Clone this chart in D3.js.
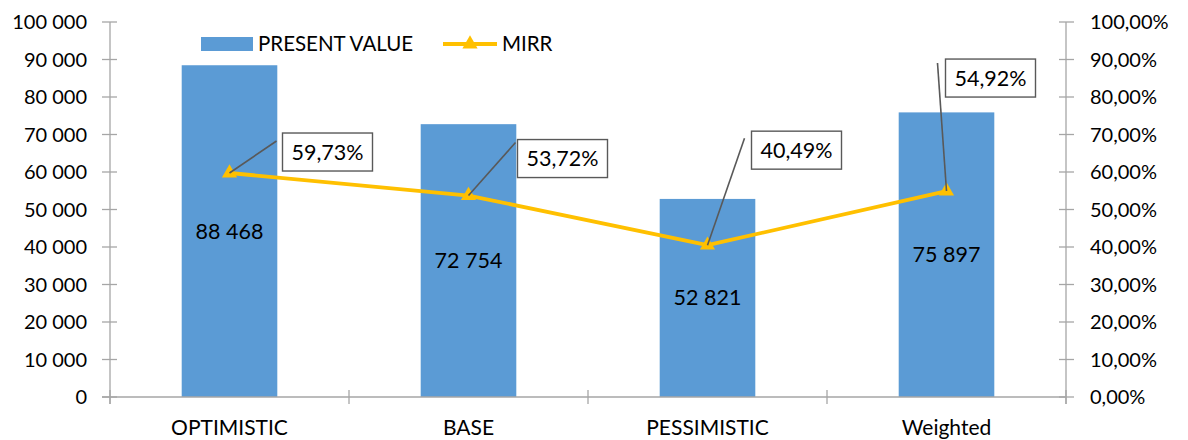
<!DOCTYPE html>
<html>
<head>
<meta charset="utf-8">
<script src="https://cdn.jsdelivr.net/npm/d3@7/dist/d3.min.js"></script>
<style>
  html, body { margin: 0; padding: 0; background: #fff; }
  svg text { font-family: Lato, "Open Sans", sans-serif; fill: #000; }
</style>
</head>
<body>
<svg id="chart" width="1188" height="440"></svg>
<script>
// Scenario values
const categories = ["OPTIMISTIC", "BASE", "PESSIMISTIC", "Weighted"];
const presentValue = [88468, 72754, 52821, 75897];
const mirr = [0.5973, 0.5372, 0.4049, 0.5492];
const leftTicks = [0, 10000, 20000, 30000, 40000, 50000, 60000, 70000, 80000, 90000, 100000];
const rightTicks = [0, 0.1, 0.2, 0.3, 0.4, 0.5, 0.6, 0.7, 0.8, 0.9, 1.0];

// Callout placement for the MIRR labels (box offset from the point, leader start offset)
const callouts = [
  { bx: 53, by: -40, lx: 47, ly: -32 },
  { bx: 49, by: -56, lx: 47, ly: -53 },
  { bx: 44, by: -114, lx: 37, ly: -107 },
  { bx: -1, by: -132, lx: -9, ly: -128 }
];

const svg = d3.select("#chart");
const m = { left: 110, right: 1066, top: 22, bottom: 397 };

const x = d3.scaleBand().domain(categories).range([m.left, m.right]).paddingInner(0.6).paddingOuter(0.3);
const xb = d3.scaleBand().domain(categories).range([m.left, m.right]);
const yL = d3.scaleLinear().domain([0, 100000]).range([m.bottom, m.top]);
const yR = d3.scaleLinear().domain([0, 1]).range([m.bottom, m.top]);

const grey = "#a6a6a6";
const fmtNum = v => d3.format(",")(v).replace(/,/g, " ");
const fmtPct = v => d3.format(".2f")(v * 100).replace(".", ",") + "%";

// Bars
svg.append("g").selectAll("rect").data(presentValue).join("rect")
  .attr("x", (d, i) => x(categories[i]))
  .attr("width", x.bandwidth())
  .attr("y", d => yL(d))
  .attr("height", d => yL(0) - yL(d))
  .attr("fill", "#5b9bd5");

// Bar value labels
svg.append("g").selectAll("text").data(presentValue).join("text")
  .attr("x", (d, i) => x(categories[i]) + x.bandwidth() / 2)
  .attr("y", d => (yL(d) + yL(0)) / 2)
  .attr("dy", "0.35em")
  .attr("text-anchor", "middle")
  .attr("font-size", 21.5)
  .text(fmtNum);

// Left axis
const gL = svg.append("g");
gL.append("line").attr("x1", m.left).attr("x2", m.left).attr("y1", m.top).attr("y2", m.bottom + 7).attr("stroke", grey).attr("stroke-width", 1.3);
gL.selectAll("line.t").data(leftTicks).join("line").attr("class", "t")
  .attr("x1", m.left - 8).attr("x2", m.left + 7)
  .attr("y1", d => yL(d)).attr("y2", d => yL(d)).attr("stroke", grey).attr("stroke-width", 1.3);
gL.selectAll("text").data(leftTicks).join("text")
  .attr("x", 87).attr("y", d => yL(d)).attr("dy", "0.35em")
  .attr("text-anchor", "end").attr("font-size", 20).text(fmtNum);

// Right axis
const gR = svg.append("g");
gR.append("line").attr("x1", m.right).attr("x2", m.right).attr("y1", m.top).attr("y2", m.bottom + 7).attr("stroke", grey).attr("stroke-width", 1.3);
gR.selectAll("line.t").data(rightTicks).join("line").attr("class", "t")
  .attr("x1", m.right - 7).attr("x2", m.right + 8)
  .attr("y1", d => yR(d)).attr("y2", d => yR(d)).attr("stroke", grey).attr("stroke-width", 1.3);
gR.selectAll("text").data(rightTicks).join("text")
  .attr("x", 1090).attr("y", d => yR(d)).attr("dy", "0.35em")
  .attr("text-anchor", "start").attr("font-size", 20).text(fmtPct);

// Category axis
const gX = svg.append("g");
gX.append("line").attr("x1", m.left - 8).attr("x2", m.right).attr("y1", m.bottom).attr("y2", m.bottom).attr("stroke", grey).attr("stroke-width", 1.3);
const edges = categories.map(c => xb(c)).concat([m.right]);
gX.selectAll("line.t").data(edges).join("line").attr("class", "t")
  .attr("x1", d => d).attr("x2", d => d).attr("y1", m.bottom - 7).attr("y2", m.bottom + 7)
  .attr("stroke", grey).attr("stroke-width", 1.3);
gX.selectAll("text").data(categories).join("text")
  .attr("x", d => xb(d) + xb.bandwidth() / 2).attr("y", 428).attr("dy", "0.35em")
  .attr("text-anchor", "middle").attr("font-size", 21).text(d => d);

// MIRR line
const pts = mirr.map((v, i) => [xb(categories[i]) + xb.bandwidth() / 2, yR(v)]);
svg.append("path").attr("d", d3.line()(pts)).attr("fill", "none")
  .attr("stroke", "#ffc000").attr("stroke-width", 3.8).attr("stroke-linejoin", "round");
const tri = d3.symbol().type(d3.symbolTriangle).size(100);
svg.append("g").selectAll("path").data(pts).join("path")
  .attr("transform", d => `translate(${d[0]},${d[1]})`)
  .attr("d", tri).attr("fill", "#ffc000");

// MIRR callouts
const cg = svg.append("g");
pts.forEach((p, i) => {
  const c = callouts[i];
  cg.append("line").attr("x1", p[0] + c.lx).attr("y1", p[1] + c.ly).attr("x2", p[0]).attr("y2", p[1])
    .attr("stroke", "#595959").attr("stroke-width", 1.6);
  const bx = p[0] + c.bx, by = p[1] + c.by;
  cg.append("rect").attr("x", bx).attr("y", by).attr("width", 90).attr("height", 38)
    .attr("fill", "#fff").attr("stroke", "#595959").attr("stroke-width", 1.4);
  cg.append("text").attr("x", bx + 45).attr("y", by + 19).attr("dy", "0.35em")
    .attr("text-anchor", "middle").attr("font-size", 21.5).text(fmtPct(mirr[i]));
});

// Legend
const lg = svg.append("g");
lg.append("rect").attr("x", 201).attr("y", 37).attr("width", 52).attr("height", 14).attr("fill", "#5b9bd5");
lg.append("text").attr("x", 258).attr("y", 44).attr("dy", "0.35em").attr("font-size", 20.5).text("PRESENT VALUE");
lg.append("line").attr("x1", 443).attr("x2", 497).attr("y1", 44).attr("y2", 44).attr("stroke", "#ffc000").attr("stroke-width", 3.8);
lg.append("path").attr("transform", "translate(470,44)").attr("d", tri).attr("fill", "#ffc000");
lg.append("text").attr("x", 502).attr("y", 44).attr("dy", "0.35em").attr("font-size", 20.5).text("MIRR");
</script>
</body>
</html>
